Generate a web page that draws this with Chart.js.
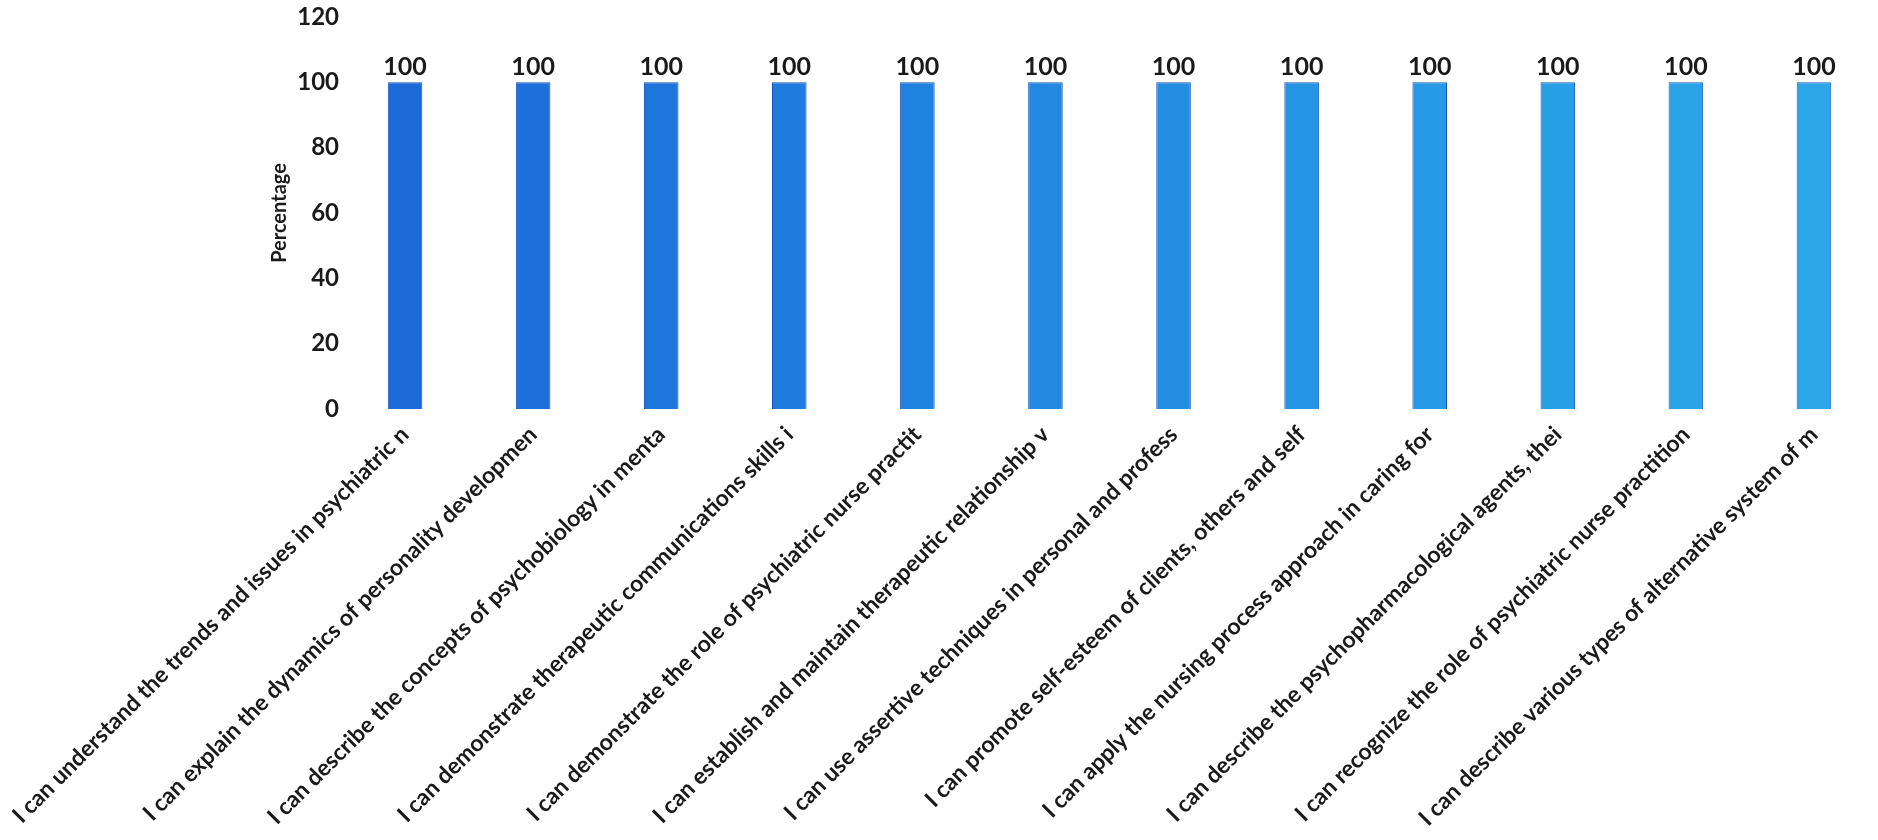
<!DOCTYPE html>
<html>
<head>
<meta charset="utf-8">
<title>Percentage</title>
<script src="https://cdn.jsdelivr.net/npm/chart.js@4/dist/chart.umd.min.js"></script>
<style>
  html, body { margin: 0; padding: 0; background: #fff; }
  canvas { display: block; }
</style>
</head>
<body>
<canvas id="chart" width="1878" height="840"></canvas>
<script>
// Данные графика
const statements = [
    'I can understand the trends and issues in psychiatric n',
    'I can explain the dynamics of personality developmen',
    'I can describe the concepts of psychobiology in menta',
    'I can demonstrate therapeutic communications skills i',
    'I can demonstrate the role of psychiatric nurse practit',
    'I can establish and maintain therapeutic relationship v',
    'I can use assertive techniques in personal and profess',
    'I can promote self-esteem of clients, others and self',
    'I can apply the nursing process approach in caring for',
    'I can describe the psychopharmacological agents, thei',
    'I can recognize the role of psychiatric nurse practition',
    'I can describe various types of alternative system of m'
];
const percentages = [100, 100, 100, 100, 100, 100, 100, 100, 100, 100, 100, 100];
const yTicks = [0, 20, 40, 60, 80, 100, 120];

// Цвета столбцов (на скане слева темнее, справа светлее)
const barColors = [
    '#1c69d8', '#1d6fda', '#1e76dc', '#1f7cde', '#2082df', '#2288e0',
    '#238ee2', '#2594e3', '#269ae4', '#279fe5', '#29a3e6', '#2ba7e7'
];

const FONT = 'Lato, "Open Sans", sans-serif';

// Подписи значений над столбцами
const valueLabels = {
    id: 'valueLabels',
    afterDatasetsDraw(chart) {
        const ctx = chart.ctx;
        const meta = chart.getDatasetMeta(0);
        ctx.save();
        ctx.font = 'bold 25px ' + FONT;
        ctx.fillStyle = '#1a1a1a';
        ctx.textAlign = 'center';
        ctx.textBaseline = 'bottom';
        meta.data.forEach((bar, i) => {
            ctx.fillText(String(percentages[i]), bar.x, bar.y - 3);
        });
        ctx.restore();
    }
};

new Chart(document.getElementById('chart'), {
    type: 'bar',
    data: {
        labels: statements,
        datasets: [{
            data: percentages,
            backgroundColor: barColors,
            borderColor: '#1553b8',
            borderWidth: 1,
            barPercentage: 0.27,
            categoryPercentage: 1
        }]
    },
    options: {
        responsive: false,
        animation: false,
        layout: {
            padding: { left: 268, top: 17, right: 0, bottom: 0 }
        },
        plugins: {
            legend: { display: false },
            tooltip: { enabled: false }
        },
        scales: {
            x: {
                grid: { display: false, drawTicks: false },
                border: { display: false },
                ticks: {
                    autoSkip: false,
                    minRotation: 45,
                    maxRotation: 45,
                    padding: 12,
                    color: '#1a1a1a',
                    font: { family: FONT, size: 23, weight: 'bold' }
                },
                afterFit(scale) {
                    scale.paddingLeft = 0;
                    scale.paddingRight = 0;
                    scale.height = 431;
                }
            },
            y: {
                min: 0,
                max: 120,
                grid: { display: false, drawTicks: false },
                border: { display: false },
                afterBuildTicks(scale) {
                    scale.ticks = yTicks.map(v => ({ value: v }));
                },
                ticks: {
                    padding: 2,
                    color: '#1a1a1a',
                    font: { family: FONT, size: 24, weight: 'bold' }
                },
                title: {
                    display: true,
                    text: 'Percentage',
                    color: '#1a1a1a',
                    padding: 0,
                    font: { family: FONT, size: 20, weight: 'bold' }
                },
                afterFit(scale) {
                    scale.width = 73;
                    scale.paddingTop = 0;
                    scale.paddingBottom = 0;
                }
            }
        }
    },
    plugins: [valueLabels]
});
</script>
</body>
</html>
